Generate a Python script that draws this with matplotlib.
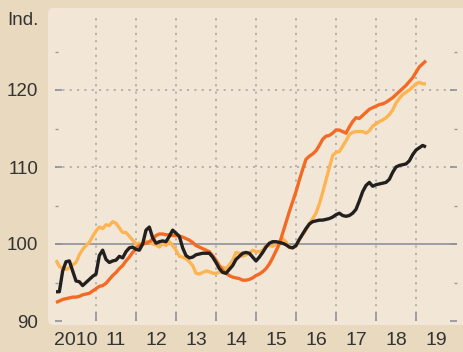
import numpy as np
import matplotlib
matplotlib.use("Agg")
import matplotlib.pyplot as plt
from matplotlib.patches import FancyBboxPatch

plt.rcParams['font.family'] = ['Liberation Sans', 'DejaVu Sans']

# Monthly index values, Jan 2010 onwards
black = [93.8, 93.8, 96.5, 97.7, 97.8, 96.5, 95.2, 95.1, 94.6, 95.0, 95.4, 95.8,
         96.1, 98.5, 99.2, 98.0, 97.6, 97.8, 97.9, 98.4, 98.2, 99.0, 99.5, 99.6,
         99.3, 99.2, 100.0, 101.8, 102.2, 100.8, 100.1, 100.3, 100.4, 100.3, 101.0, 101.8,
         101.4, 101.0, 99.5, 98.5, 98.2, 98.3, 98.6, 98.7, 98.8, 98.8, 98.8, 98.3,
         97.6, 96.8, 96.3, 96.2, 96.7, 97.2, 98.0, 98.4, 98.8, 98.9, 98.8, 98.3,
         97.8, 98.3, 98.9, 99.6, 100.1, 100.3, 100.3, 100.2, 100.1, 99.9, 99.6, 99.5,
         99.8, 100.6, 101.3, 102.0, 102.6, 102.9, 103.0, 103.1, 103.1, 103.2, 103.3, 103.5,
         103.8, 104.0, 103.7, 103.6, 103.7, 104.0, 104.5, 105.6, 106.8, 107.6, 108.0, 107.5,
         107.7, 107.8, 107.9, 108.0, 108.4, 109.3, 110.0, 110.2, 110.3, 110.4, 110.8, 111.6,
         112.2, 112.5, 112.8, 112.6]

dark_orange = [92.4, 92.6, 92.8, 92.9, 93.0, 93.1, 93.1, 93.2, 93.4, 93.5, 93.6, 93.9,
               94.2, 94.5, 94.6, 94.9, 95.4, 95.9, 96.3, 96.8, 97.2, 97.8, 98.3, 98.9,
               99.4, 99.8, 100.0, 100.1, 100.3, 100.6, 101.1, 101.3, 101.3, 101.2, 101.2, 101.1,
               101.1, 101.0, 100.9, 100.7, 100.5, 100.2, 99.8, 99.6, 99.4, 99.2, 99.0, 98.5,
               97.9, 97.2, 96.6, 96.2, 95.9, 95.7, 95.6, 95.5, 95.3, 95.3, 95.4, 95.6,
               95.9, 96.1, 96.4, 96.8, 97.4, 98.2, 99.1, 100.0, 101.4, 102.8, 104.2, 105.5,
               106.8, 108.3, 109.7, 111.0, 111.4, 111.7, 112.1, 112.8, 113.6, 114.0, 114.1, 114.4,
               114.8, 114.8, 114.6, 114.4, 115.2, 115.9, 116.4, 116.3, 116.7, 117.1, 117.5, 117.7,
               117.9, 118.1, 118.2, 118.4, 118.7, 119.0, 119.4, 119.8, 120.2, 120.6, 121.1, 121.6,
               122.3, 123.0, 123.4, 123.8]

light_orange = [97.9, 97.1, 96.8, 96.7, 96.9, 97.3, 97.6, 98.6, 99.3, 99.8, 100.2, 101.0,
                101.7, 102.2, 102.0, 102.5, 102.4, 102.9, 102.7, 102.1, 101.5, 101.5, 101.0, 100.5,
                100.0, 100.1, 99.9, 100.3, 100.2, 100.0, 99.9, 99.6, 100.1, 99.8, 100.3, 99.8,
                99.2, 98.4, 98.3, 98.1, 97.7, 97.2, 96.2, 96.1, 96.3, 96.5, 96.4, 96.2,
                96.2, 96.3, 97.0, 96.8, 97.3, 97.9, 98.9, 98.8, 98.4, 98.6, 98.7, 99.2,
                99.0, 99.0, 99.2, 99.8, 99.8, 99.7, 100.0, 100.3, 100.7, 100.3, 99.5, 99.5,
                99.7, 100.6, 101.2, 101.8, 102.6, 103.3, 104.0, 105.2, 106.7, 108.3, 109.9, 111.5,
                111.9, 112.0, 112.7, 113.4, 114.2, 114.5, 114.6, 114.6, 114.6, 114.4, 114.7, 115.3,
                115.6, 115.9, 116.1, 116.4, 116.8, 117.4, 118.3, 118.9, 119.4, 119.7, 120.0, 120.4,
                120.8, 121.0, 120.8, 120.8]

year_labels = ["2010", "11", "12", "13", "14", "15", "16", "17", "18", "19"]
y_labels = ["90", "100", "110", "120"]

OUTER = "#e9d9be"
PANEL = "#f2e7d7"
GRID = "#a3a3a6"
TEXT = "#333333"

W, H = 463, 352
fig = plt.figure(figsize=(W / 100, H / 100), dpi=100)
fig.patch.set_facecolor(OUTER)

# lighter rounded panel behind the plot
panel = FancyBboxPatch((48 / W, (H - 325) / H), (475 - 48) / W, (325 - 8) / H,
                       boxstyle="round,pad=0,rounding_size=0.012",
                       mutation_aspect=W / H, transform=fig.transFigure,
                       facecolor=PANEL, edgecolor="none", zorder=-10)
fig.patches.append(panel)

ax = fig.add_axes([55 / W, (H - 321) / H, (457 - 55) / W, (321 - 13) / H])
ax.set_facecolor("none")
for s in ax.spines.values():
    s.set_visible(False)

x = 2010 + np.arange(len(black)) / 12

ax.plot(x, light_orange, color="#fdb452", lw=2.4, zorder=3, solid_capstyle="butt")
ax.plot(x, dark_orange, color="#f26a24", lw=2.4, zorder=4, solid_capstyle="butt")
ax.plot(x, black, color="#221f1f", lw=2.4, zorder=5, solid_capstyle="butt")

ax.set_xlim(2009.975, 2020.025)
ax.set_ylim(90, 130)

# gridlines
ax.axhline(100, color="#8f9299", lw=1.2, zorder=2)
dots = (0, (1.4, 3.4))
for yv in (110, 120):
    ax.axhline(yv, color=GRID, lw=1.1, ls=dots, zorder=1)
boundaries = np.arange(2011, 2020)
for b in boundaries:
    ax.axvline(b, color=GRID, lw=1.1, ls=dots, zorder=1)

ax.set_xticks(np.arange(2010, 2020) + 0.5, year_labels)
ax.set_xticks(boundaries, minor=True)
ax.tick_params(axis="x", which="major", length=0, pad=8, labelsize=14, labelcolor=TEXT)
ax.tick_params(axis="x", which="minor", direction="in", length=6.5, width=1.3, color="#9a9a9e")

ax.set_yticks([90, 100, 110, 120], y_labels)
ax.set_yticks([95, 105, 115, 125], minor=True)
ax.tick_params(axis="y", which="major", direction="in", length=5, width=1.2, color="#8f9299",
               left=True, right=True, pad=12, labelsize=13.5, labelcolor=TEXT)
ax.tick_params(axis="y", which="minor", direction="in", length=2.5, width=1, color="#9a9a9e",
               left=True, right=True)

fig.text(7 / W, 1 - 25 / H, "Ind.", ha="left", va="baseline", fontsize=13.5, color=TEXT)

fig.savefig("out.png", dpi=100, facecolor=fig.get_facecolor())
